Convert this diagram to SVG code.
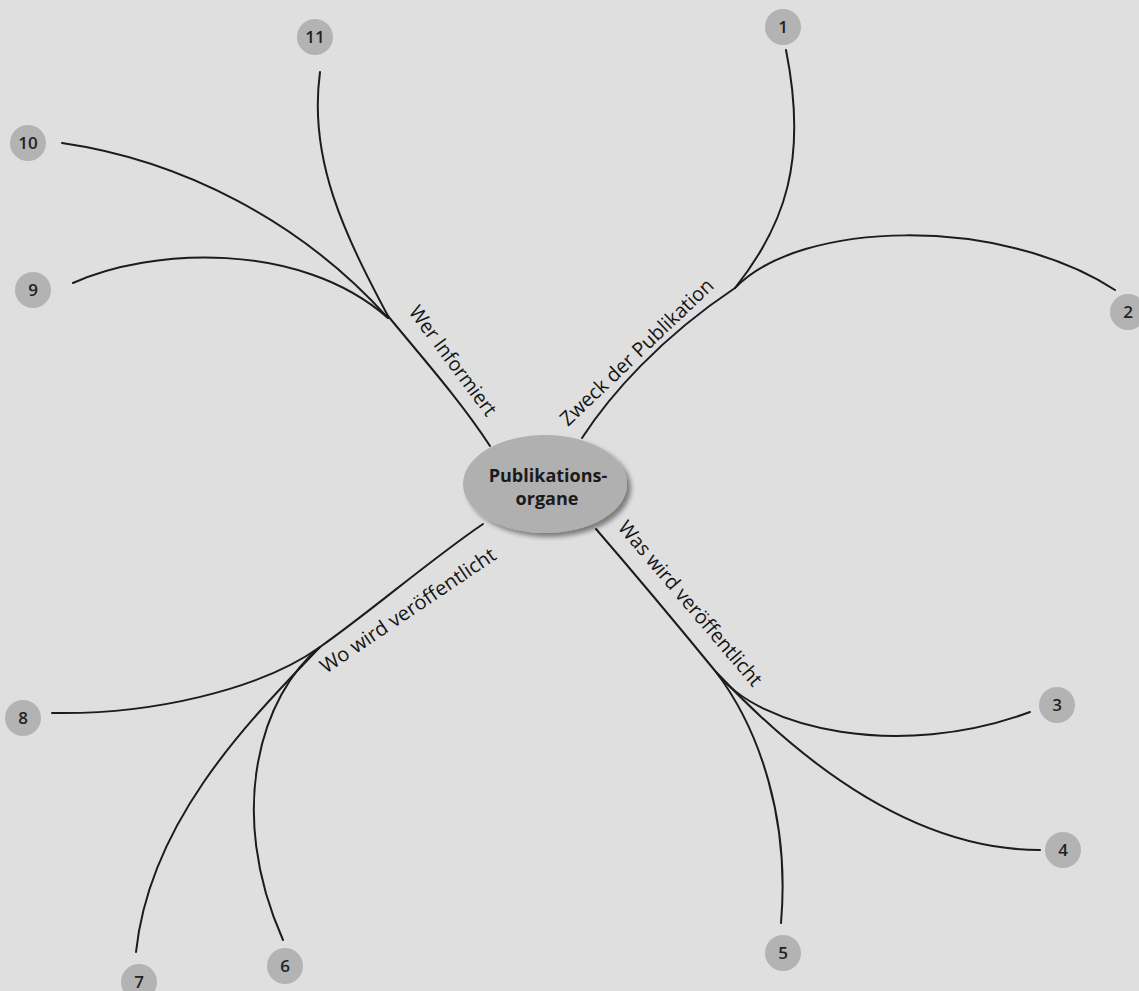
<svg xmlns="http://www.w3.org/2000/svg" width="1139" height="991" viewBox="0 0 1139 991">
<defs>
<style>
.bg{fill:#dfdfdf}
.ln{fill:none;stroke:#1c1c1c;stroke-width:2;stroke-linecap:round}
.lbl{font-family:"Open Sans","Liberation Sans",sans-serif;font-size:20px;font-weight:500;fill:#151515}
.num circle{fill:#b3b3b3}
.num text{font-family:"Open Sans","Liberation Sans",sans-serif;font-size:17px;font-weight:600;fill:#222;text-anchor:middle}
.ctr{font-family:"Open Sans","Liberation Sans",sans-serif;font-size:18px;font-weight:700;fill:#1a1a1a;text-anchor:middle}
</style>
<filter id="sh" x="-20%" y="-20%" width="150%" height="160%">
<feGaussianBlur in="SourceAlpha" stdDeviation="2.5"/>
<feOffset dx="4" dy="4" result="b"/>
<feComponentTransfer><feFuncA type="linear" slope="0.45"/></feComponentTransfer>
<feMerge><feMergeNode/><feMergeNode in="SourceGraphic"/></feMerge>
</filter>
</defs>
<rect class="bg" x="0" y="0" width="1139" height="991"/>
<g id="connectors">
<path class="ln" d="M582,438 C610,395 660,338 735,288"/>
<path class="ln" d="M735,288 C785,225 808,160 786,50"/>
<path class="ln" d="M735,288 C800,220 1000,215 1115,290"/>
<path class="ln" d="M490,446 C460,400 420,355 388,316"/>
<path class="ln" d="M388,316 C345,235 308,160 320,72"/>
<path class="ln" d="M388,318 C300,220 180,160 62,143"/>
<path class="ln" d="M388,318 C300,240 150,248 73,283"/>
<path class="ln" d="M596,529 C640,580 680,628 716,672"/>
<path class="ln" d="M716,672 C760,730 900,760 1030,712"/>
<path class="ln" d="M716,672 C780,740 900,850 1040,850"/>
<path class="ln" d="M716,672 C760,730 790,820 781,923"/>
<path class="ln" d="M483,524 C430,560 370,612 320,647"/>
<path class="ln" d="M320,647 C260,690 150,715 52,713"/>
<path class="ln" d="M320,647 C250,720 150,820 136,952"/>
<path class="ln" d="M320,647 C262,694 225,810 283,940"/>
<text class="lbl" transform="translate(568,427) rotate(-43.6)" textLength="203" lengthAdjust="spacingAndGlyphs">Zweck der Publikation</text>
<text class="lbl" transform="translate(408,312) rotate(53.3)" textLength="132" lengthAdjust="spacingAndGlyphs">Wer Informiert</text>
<text class="lbl" transform="translate(617,528) rotate(49.6)" textLength="210" lengthAdjust="spacingAndGlyphs">Was wird veröffentlicht</text>
<text class="lbl" transform="translate(326,674) rotate(-34)" textLength="207" lengthAdjust="spacingAndGlyphs">Wo wird veröffentlicht</text>
</g>
<g id="center">
<ellipse cx="545" cy="484" rx="82" ry="49" fill="#b0b0b0" filter="url(#sh)"/>
<text class="ctr" x="548" y="482">Publikations-</text>
<text class="ctr" x="547" y="505">organe</text>
</g>
<g id="n1" class="num"><circle cx="783" cy="27" r="18"/><text x="783" y="33">1</text></g>
<g id="n2" class="num"><circle cx="1128" cy="312" r="18"/><text x="1128" y="318">2</text></g>
<g id="n3" class="num"><circle cx="1057" cy="705" r="18"/><text x="1057" y="711">3</text></g>
<g id="n4" class="num"><circle cx="1063" cy="850" r="18"/><text x="1063" y="856">4</text></g>
<g id="n5" class="num"><circle cx="783" cy="953" r="18"/><text x="783" y="959">5</text></g>
<g id="n6" class="num"><circle cx="285" cy="966" r="18"/><text x="285" y="972">6</text></g>
<g id="n7" class="num"><circle cx="139" cy="982" r="18"/><text x="139" y="988">7</text></g>
<g id="n8" class="num"><circle cx="23" cy="718" r="18"/><text x="23" y="724">8</text></g>
<g id="n9" class="num"><circle cx="33" cy="290" r="18"/><text x="33" y="296">9</text></g>
<g id="n10" class="num"><circle cx="28" cy="143" r="18"/><text x="28" y="149">10</text></g>
<g id="n11" class="num"><circle cx="315" cy="37" r="18"/><text x="315" y="43">11</text></g>
</svg>
